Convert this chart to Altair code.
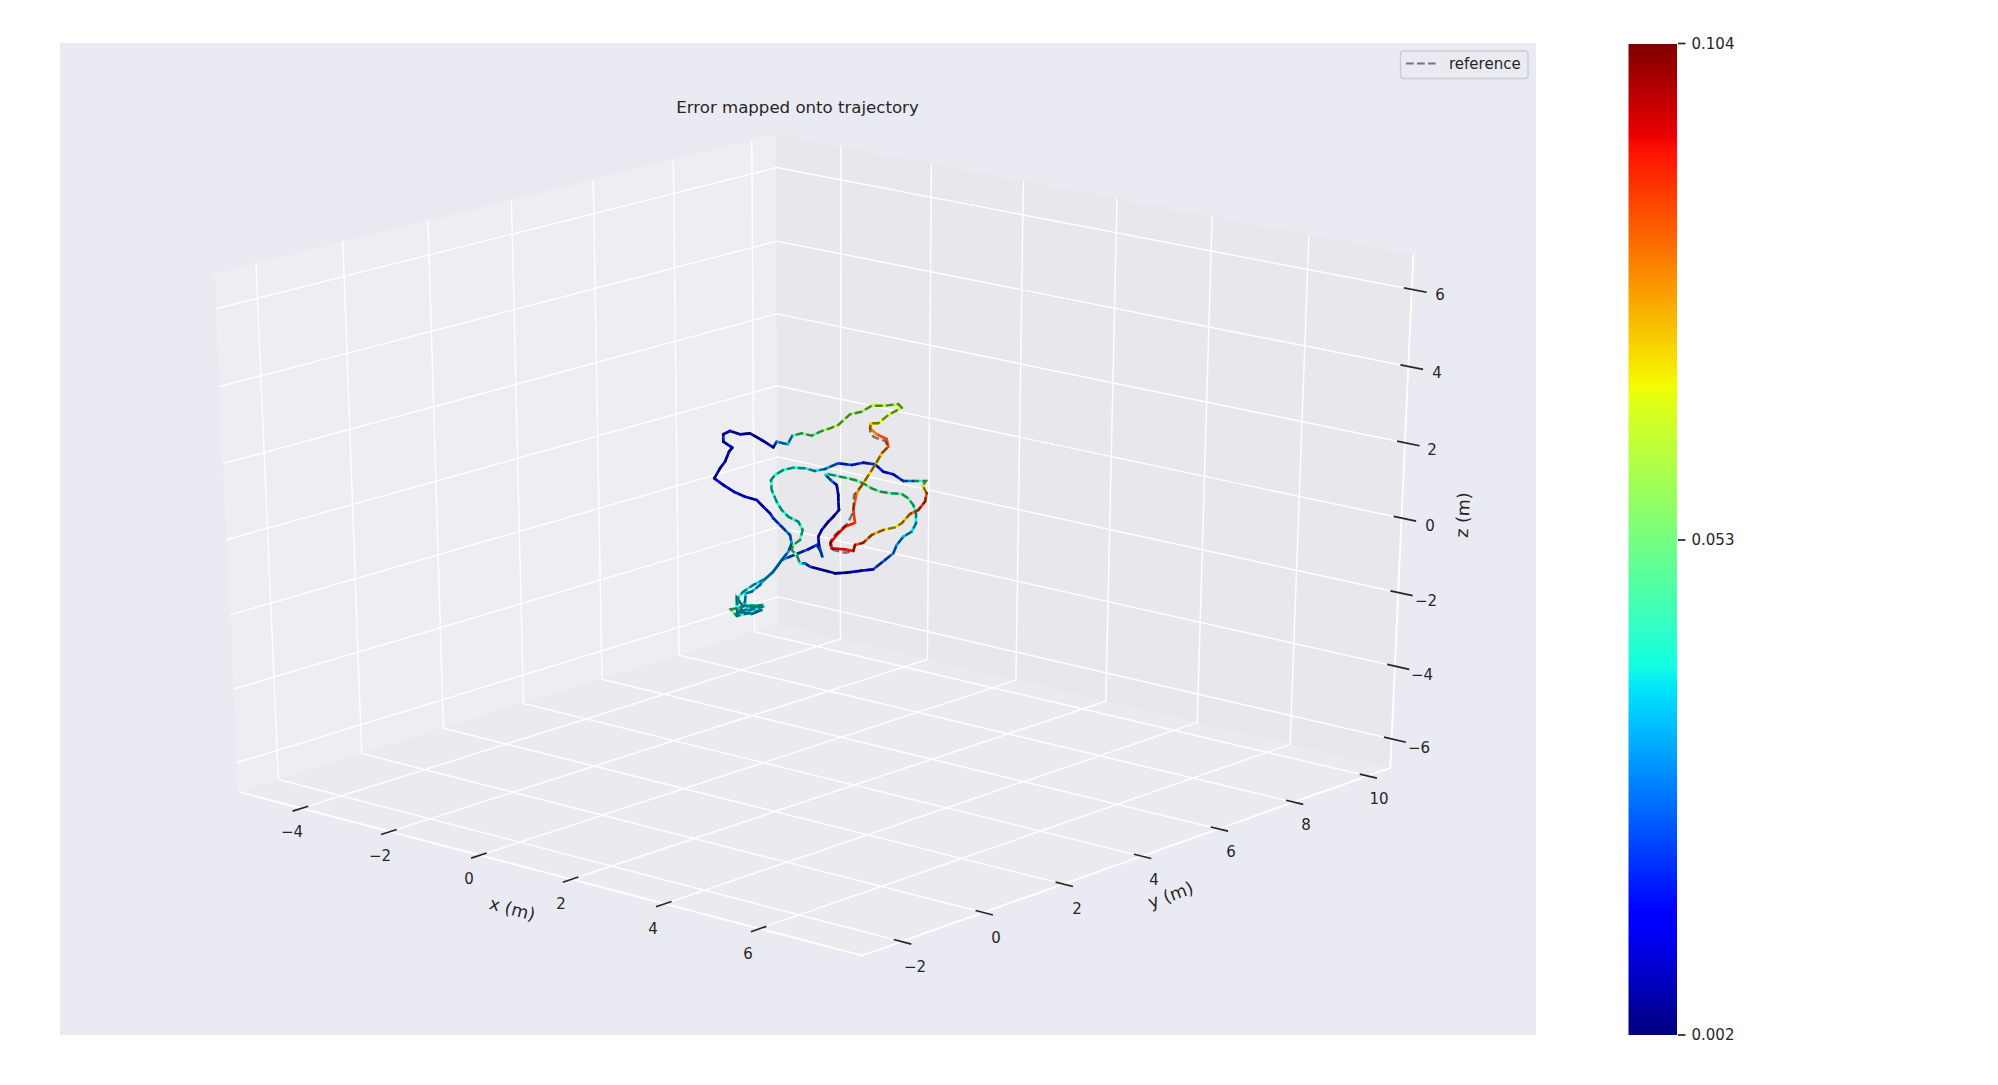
import numpy as np
import pandas as pd
import altair as alt

FONT = "DejaVu Sans"
INK = "#262626"

# --- picture frame: page pixel domain
XD = [8, 1808]
YD = [1068, 8]
xs = alt.Scale(domain=XD, nice=False, zero=False)
ys = alt.Scale(domain=YD, nice=False, zero=False)
X = alt.X("x:Q", scale=xs, axis=None)
Y = alt.Y("y:Q", scale=ys, axis=None)

# --- 3D box
XLIM = [-5.45, 8.12]
YLIM = [-2.95, 10.63]
ZLIM = [-6.8, 6.9]
XTICKS = [-4, -2, 0, 2, 4, 6]
YTICKS = [-2, 0, 2, 4, 6, 8, 10]
ZTICKS = [-6, -4, -2, 0, 2, 4, 6]
x0, x1 = XLIM
y0, y1 = YLIM
z0, z1 = ZLIM

# points of the box: (x, y, z) -> image pixel
FIT_3D = [
    (x0, y0, z0), (x1, y0, z0), (x1, y1, z0), (x0, y1, z0), (x0, y0, z1), (x0, y1, z1), (x1, y1, z1),
    (-4, y0, z0), (-2, y0, z0), (0, y0, z0), (2, y0, z0), (4, y0, z0), (6, y0, z0),
    (x1, -2, z0), (x1, 0, z0), (x1, 2, z0), (x1, 4, z0), (x1, 6, z0), (x1, 8, z0), (x1, 10, z0),
    (x0, -2, z0), (x0, 0, z0), (x0, 2, z0), (x0, 4, z0), (x0, 10, z0),
    (x0, y1, 6), (x0, y1, -6), (x0, y1, -2), (x0, y1, -4),
    (x1, y1, 6), (x1, y1, -6),
    (x0, -2, z1), (x0, 0, z1), (x0, 2, z1), (x0, 4, z1), (x0, 6, z1), (x0, 8, z1), (x0, 10, z1),
    (-4, y1, z1), (-2, y1, z1), (0, y1, z1), (2, y1, z1), (4, y1, z1), (6, y1, z1),
    (-4, y1, z0), (-2, y1, z0), (0, y1, z0), (2, y1, z0), (4, y1, z0), (6, y1, z0),
]
FIT_PX = [
    (240, 791), (863, 957), (1389, 767), (778, 622), (218, 271), (777, 135), (1412.5, 252.7),
    (303.5, 807.8), (391.5, 831), (481, 855), (572, 879.4), (665, 904), (760, 929.5),
    (901, 943), (982, 914), (1063, 884.8), (1141, 856.6), (1218, 828.8), (1293, 801.7), (1366, 775.3),
    (277, 779), (360, 754), (441, 728), (521, 703), (752, 631),
    (777, 168), (778, 600), (778, 459), (778, 530),
    (1408, 288), (1392, 741),
    (255, 262), (341.5, 241), (427, 220), (511, 200), (591, 180.5), (671, 161), (749, 142),
    (842.5, 147), (933, 164), (1025, 181), (1119, 198), (1214, 216), (1310, 234),
    (842, 637), (929, 658), (1018, 679), (1107, 700), (1198, 722), (1291, 744),
]


def fit_camera():
    rows = []
    for c3, (u, v) in zip(FIT_3D, FIT_PX):
        p = list(c3) + [1.0]
        rows.append(p + [0, 0, 0, 0] + [-u * c for c in p])
        rows.append([0, 0, 0, 0] + p + [-v * c for c in p])
    return np.linalg.svd(np.array(rows))[2][-1].reshape(3, 4)


CAM = fit_camera()


def proj(x, y, z):
    q = CAM @ np.array([x, y, z, 1.0])
    return float(q[0] / q[2]), float(q[1] / q[2])


def band(poly):
    xv = sorted({p[0] for p in poly})
    out = []
    n = len(poly)
    for xi in xv:
        hits = []
        for i in range(n):
            a, b = poly[i], poly[(i + 1) % n]
            lo, hi = min(a[0], b[0]), max(a[0], b[0])
            if lo <= xi <= hi and hi > lo:
                hits.append(a[1] + (xi - a[0]) / (b[0] - a[0]) * (b[1] - a[1]))
        out.append({"x": xi, "y": min(hits), "y2": max(hits)})
    return pd.DataFrame(out)


def pane(corners, color):
    poly = [proj(*c) for c in corners]
    return alt.Chart(band(poly)).mark_area(color=color, opacity=0.5, strokeWidth=0).encode(
        x=X, y=Y, y2="y2:Q"
    )


pane_x = pane([(x0, y0, z0), (x0, y1, z0), (x0, y1, z1), (x0, y0, z1)], "#f2f2f2")
pane_y = pane([(x0, y1, z0), (x1, y1, z0), (x1, y1, z1), (x0, y1, z1)], "#e6e6e6")
pane_z = pane([(x0, y0, z0), (x1, y0, z0), (x1, y1, z0), (x0, y1, z0)], "#ececec")

grid_rows = []
gid = 0
for v in XTICKS:
    for o, c in enumerate([(v, y0, z0), (v, y1, z0), (v, y1, z1)]):
        px = proj(*c)
        grid_rows.append({"x": px[0], "y": px[1], "g": gid, "o": o})
    gid += 1
for v in YTICKS:
    for o, c in enumerate([(x1, v, z0), (x0, v, z0), (x0, v, z1)]):
        px = proj(*c)
        grid_rows.append({"x": px[0], "y": px[1], "g": gid, "o": o})
    gid += 1
for v in ZTICKS:
    for o, c in enumerate([(x0, y0, v), (x0, y1, v), (x1, y1, v)]):
        px = proj(*c)
        grid_rows.append({"x": px[0], "y": px[1], "g": gid, "o": o})
    gid += 1
grid = alt.Chart(pd.DataFrame(grid_rows)).mark_line(color="white", strokeWidth=1.4).encode(
    x=X, y=Y, detail="g:N", order="o:Q"
)

edge_rows = []
for o, c in enumerate([(x0, y0, z0), (x1, y0, z0), (x1, y1, z0), (x1, y1, z1)]):
    px = proj(*c)
    edge_rows.append({"x": px[0], "y": px[1], "o": o})
edges = alt.Chart(pd.DataFrame(edge_rows)).mark_line(color="white", strokeWidth=1.75).encode(
    x=X, y=Y, order="o:Q"
)

tick_rows = []
for v in XTICKS:
    a, b = proj(v, y0 + 0.16, z0), proj(v, y0 - 0.21, z0)
    tick_rows.append({"x": a[0], "y": a[1], "x2": b[0], "y2": b[1]})
for v in YTICKS:
    a, b = proj(x1 - 0.16, v, z0), proj(x1 + 0.2, v, z0)
    tick_rows.append({"x": a[0], "y": a[1], "x2": b[0], "y2": b[1]})
for v in ZTICKS:
    a, b = proj(x1 - 0.16, y1, v), proj(x1 + 0.3, y1, v)
    tick_rows.append({"x": a[0], "y": a[1], "x2": b[0], "y2": b[1]})
ticks = alt.Chart(pd.DataFrame(tick_rows)).mark_rule(color=INK, strokeWidth=1.7).encode(
    x=X, y=Y, x2="x2:Q", y2="y2:Q"
)

# --- tick labels
LABELS_X = ["−4", "−2", "0", "2", "4", "6"]
LABELS_X_PX = [292, 380, 469, 561, 653, 748]
LABELS_X_PY = [832, 856, 879, 904, 929, 954]
LABELS_Y = ["−2", "0", "2", "4", "6", "8", "10"]
LABELS_Y_PX = [915, 996, 1077, 1154, 1231, 1306, 1379]
LABELS_Y_PY = [967, 938, 909, 880, 852, 825, 799]
LABELS_Z = ["6", "4", "2", "0", "−2", "−4", "−6"]
LABELS_Z_PX = [1440, 1437, 1432, 1430, 1426, 1422, 1419]
LABELS_Z_PY = [295, 373, 450, 526, 601, 675, 748]
labels_df = pd.DataFrame({
    "x": LABELS_X_PX + LABELS_Y_PX + LABELS_Z_PX,
    "y": LABELS_X_PY + LABELS_Y_PY + LABELS_Z_PY,
    "t": LABELS_X + LABELS_Y + LABELS_Z,
})
labels = alt.Chart(labels_df).mark_text(font=FONT, fontSize=15, color=INK, baseline="middle", align="center").encode(
    x=X, y=Y, text="t:N"
)


def rot_text(t, x, y, angle, size=17.5):
    return alt.Chart(pd.DataFrame({"x": [x], "y": [y], "t": [t]})).mark_text(
        font=FONT, fontSize=size, color=INK, baseline="middle", align="center", angle=angle
    ).encode(x=X, y=Y, text="t:N")


xlabel = rot_text("x (m)", 512, 910, 15)
ylabel = rot_text("y (m)", 1171, 896, 340)
zlabel = rot_text("z (m)", 1464, 515, 273)
title = rot_text("Error mapped onto trajectory", 797.5, 108, 0, 16.6)

# --- trajectory
P1_X = [736.7, 763.3, 746.7, 736.7, 730.7, 736.7, 761.7, 751.7, 738.3, 762.7, 743.3, 736.7, 737.3, 745, 745.7, 751.7, 760, 765, 771.7, 778.3, 781.7, 790, 798.3, 808.3, 816.7, 820, 822.3, 819, 818.3, 821.7, 828.3, 833.3, 839, 838.3, 838.3, 836.7, 831.7, 825.7, 827.7, 843.3, 855, 863.3, 871.7, 880, 891.7, 901.7, 908.3, 913.3, 916, 916, 911.7, 903.3, 896.7, 893.3, 885, 873.3, 861.7, 846.7, 835, 820, 810, 805, 800, 796.7, 791.7, 793.3, 800, 802.7, 798.3, 788.3, 781.7, 776.7, 771.7, 771, 775, 783.3, 793.3, 805, 815, 825, 838.3, 851.7, 863.3, 875, 883.3, 893.3, 903.3, 915, 926, 922.7, 926.7, 925, 918.3, 910, 901.7, 895, 883.3, 871.7, 863.3, 855]
P1_Y = [613.3, 606.7, 605, 608.3, 609.3, 616, 610, 614, 611.7, 605, 606.7, 597.3, 616, 601.7, 593.3, 591.7, 585, 579, 573.3, 565, 560, 556.7, 553.3, 549.3, 545, 550, 556.7, 545, 536.7, 530, 521.7, 516.7, 510, 500, 495, 485, 481, 475, 474, 477.3, 480, 483.3, 488.3, 491.7, 493.3, 494, 498.3, 505, 513.3, 523.3, 531.7, 536.7, 545, 553.3, 560, 569.3, 570.7, 572.7, 573.3, 569.3, 566.7, 563.3, 563.3, 555, 550, 545, 540, 530, 521.7, 516.7, 510, 501.7, 490, 480, 475, 470, 467.7, 468.3, 471, 469, 463.3, 465, 462.7, 464.3, 471.7, 474.3, 481, 481, 481, 485.7, 493.3, 501.7, 510, 514, 523.3, 527.3, 530, 535, 542.7, 545]
P1_E = [.04, .035, .04, .045, .055, .05, .035, .03, .04, .035, .045, .03, .04, .035, .035, .035, .033, .033, .033, .03, .03, .027, .022, .02, .017, .025, .038, .014, .012, .012, .01, .009, .009, .01, .01, .012, .022, .036, .04, .048, .05, .05, .05, .05, .048, .05, .05, .048, .04, .038, .036, .033, .03, .028, .025, .02, .012, .009, .007, .008, .012, .03, .043, .048, .055, .055, .05, .043, .042, .04, .042, .04, .042, .045, .04, .043, .04, .04, .038, .035, .022, .018, .02, .018, .017, .017, .02, .035, .052, .06, .085, .09, .09, .08, .072, .07, .072, .08, .087, .09]
DEV_X = [853.3, 845, 831.7, 830.7, 836.7, 845, 855, 853.3, 856.7, 863.3, 875, 881.7, 888.3, 886.7, 876.7, 870]
DEV_Y = [551, 549.3, 548.3, 542.7, 535, 526.7, 522.7, 510, 493.3, 483.3, 465, 453.3, 446.7, 439, 434.3, 428.3]
DEV_E = [.092, .095, .096, .094, .094, .093, .092, .087, .084, .075, .074, .074, .085, .09, .086, .078]
P3_X = [870.7, 878.3, 888.3, 901.7, 898.3, 885, 871.7, 861.7, 850, 838.3, 830, 821.7, 811.7, 801.7, 792.3, 787.7, 776.7, 773.3, 761.7, 750, 740, 730, 723.3, 723.3, 732.3, 729, 725, 720, 714.3, 723.3, 735, 745, 756.7, 763.3, 770, 773.3, 781.7, 790, 791.7, 788.3, 781.7, 773.3, 765, 753.3, 743.3, 738.3, 737.3]
P3_Y = [423.3, 423.3, 415, 407.7, 404, 405.7, 405.7, 411.7, 414.3, 425, 428.3, 431, 435.7, 433.3, 435.7, 444.3, 441.7, 447.3, 440, 433.3, 434.3, 431, 434.3, 441.7, 447.7, 451.7, 461.7, 468.3, 478.3, 485, 492.3, 496.7, 500, 506.7, 513.3, 518.3, 526.7, 535, 543.3, 551.7, 560, 571.7, 579, 585, 591.7, 597.3, 610]
P3_E = [.074, .072, .064, .064, .06, .062, .06, .058, .056, .058, .063, .053, .048, .058, .042, .028, .036, .012, .008, .007, .009, .012, .018, .016, .007, .009, .01, .008, .012, .014, .017, .015, .012, .014, .018, .02, .024, .027, .03, .03, .03, .033, .035, .038, .04, .04, .042]
REFDEV_X = [853.3, 845, 833.3, 830, 831.7, 848, 853.3, 854, 863.3, 875, 881.7, 888.3, 885, 873.7, 870]
REFDEV_Y = [551, 552.7, 550, 545, 538, 523, 511.7, 495, 483.3, 465, 453.3, 446.7, 441, 437, 431]

TX, TY = P1_X + DEV_X + P3_X, P1_Y + DEV_Y + P3_Y
TE = P1_E + DEV_E + P3_E
RX, RY = P1_X + REFDEV_X + P3_X, P1_Y + REFDEV_Y + P3_Y

ERR_MIN, ERR_MAX = 0.002, 0.104
JET_POS = [0, .11, .125, .34, .35, .375, .64, .65, .66, .89, .91, 1]
JET_HEX = ["#00007f", "#0000ff", "#0000ff", "#00dbff", "#00e5f6", "#15ffe1", "#e1ff15", "#eeff08", "#f6f600", "#ff1300", "#e80000", "#7f0000"]
JET_DOMAIN = [ERR_MIN + p * (ERR_MAX - ERR_MIN) for p in JET_POS]
jet = alt.Scale(domain=JET_DOMAIN, range=JET_HEX, interpolate="rgb")

segs = pd.DataFrame({
    "x": TX[:-1], "y": TY[:-1], "x2": TX[1:], "y2": TY[1:],
    "e": [(a + b) / 2 for a, b in zip(TE[:-1], TE[1:])],
})
traj = alt.Chart(segs).mark_rule(strokeWidth=2.7, strokeCap="round").encode(
    x=X, y=Y, x2="x2:Q", y2="y2:Q",
    color=alt.Color("e:Q", scale=jet, legend=None),
)
refline = alt.Chart(pd.DataFrame({"x": RX, "y": RY, "o": range(len(RX))})).mark_line(
    color="black", opacity=0.5, strokeWidth=2.4, strokeDash=[7.7, 3.3]
).encode(x=X, y=Y, order="o:Q")

# --- frame panel, legend
panel = alt.Chart(pd.DataFrame({"x": [60], "x2": [1536], "y": [43], "y2": [1035]})).mark_rect(
    color="#EAEAF2"
).encode(x=X, x2="x2:Q", y=Y, y2="y2:Q")
legend_box = alt.Chart(pd.DataFrame({"x": [1400.5], "x2": [1528], "y": [51], "y2": [78.5]})).mark_rect(
    fill="#EAEAF2", fillOpacity=0.8, stroke="#cccccc", strokeWidth=1.4, cornerRadius=3
).encode(x=X, x2="x2:Q", y=Y, y2="y2:Q")
legend_line = alt.Chart(pd.DataFrame({"x": [1406, 1436], "y": [63.5, 63.5]})).mark_line(
    color="black", opacity=0.5, strokeWidth=2.1, strokeDash=[7.7, 3.3]
).encode(x=X, y=Y)
legend_text = alt.Chart(pd.DataFrame({"x": [1449], "y": [64], "t": ["reference"]})).mark_text(
    font=FONT, fontSize=15, color=INK, align="left", baseline="middle"
).encode(x=X, y=Y, text="t:N")

# --- colour bar
stops = [alt.GradientStop(offset=p, color=c) for p, c in zip(JET_POS, JET_HEX)]
cbar = alt.Chart(pd.DataFrame({"x": [1628.5], "x2": [1677], "y": [44], "y2": [1035]})).mark_rect(
    color=alt.LinearGradient(gradient="linear", stops=stops, x1=0, x2=0, y1=1, y2=0)
).encode(x=X, x2="x2:Q", y=Y, y2="y2:Q")
CBAR_VALUES = ["0.104", "0.053", "0.002"]
CBAR_Y = [43.5, 540, 1035]
cbar_ticks = alt.Chart(pd.DataFrame({"x": [1678] * 3, "x2": [1685.5] * 3, "y": CBAR_Y})).mark_rule(
    color=INK, strokeWidth=1.7
).encode(x=X, x2="x2:Q", y=Y)
cbar_text = alt.Chart(pd.DataFrame({"x": [1691.5] * 3, "y": CBAR_Y, "t": CBAR_VALUES})).mark_text(
    font=FONT, fontSize=15, color=INK, align="left", baseline="middle"
).encode(x=X, y=Y, text="t:N")

chart = alt.layer(
    panel, pane_x, pane_y, pane_z, grid, edges, ticks, labels,
    xlabel, ylabel, zlabel, title, traj, refline,
    legend_box, legend_line, legend_text, cbar, cbar_ticks, cbar_text,
).properties(
    width=XD[1] - XD[0], height=YD[0] - YD[1], padding=0,
    autosize=alt.AutoSizeParams(type="none"),
    background="white",
).configure_view(stroke=None)

chart.save("out.html", embed_options={"renderer": "svg", "actions": False})
